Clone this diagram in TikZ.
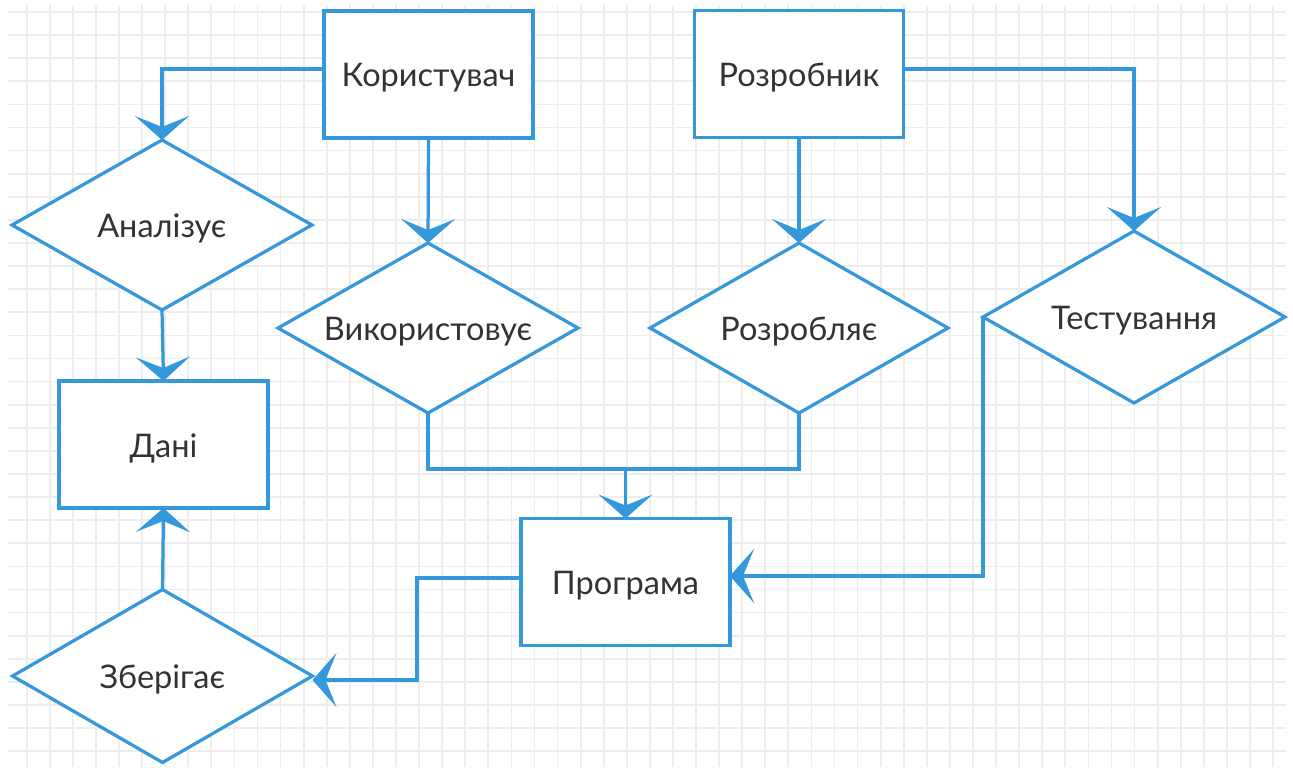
\documentclass[tikz,border=0pt]{standalone}
\usepackage{fontspec}
\setmainfont{Lato}
\usetikzlibrary{shapes.geometric,arrows.meta,calc}
\definecolor{flowblue}{HTML}{3498DB}
\definecolor{labelgray}{HTML}{333333}
\definecolor{gridgray}{HTML}{EDEDED}
% label of zero size, its baseline set a little below the shape centre
\newcommand\shapelabel[1]{\raisebox{-0.25cm}[0pt][0pt]{\makebox[0pt]{#1}}}
\begin{document}
\begin{tikzpicture}[x=0.02cm,y=-0.02cm,
  every node/.style={font=\fontsize{18.5}{22}\selectfont, text=labelgray, outer sep=0pt, inner sep=0pt},
  entity/.style={draw=flowblue, line width=0.065cm, fill=white, rectangle, minimum width=4.18cm, minimum height=2.54cm},
  relation/.style={draw=flowblue, line width=0.065cm, fill=white, diamond, minimum width=6cm, minimum height=3.4cm},
  link/.style={draw=flowblue, line width=0.065cm, line join=miter},
  arrowlink/.style={link, -{Stealth[length=0.48cm, width=1.08cm, inset=0.22cm]}}
]
  % canvas and background grid
  \fill[white] (0,0) rectangle (1293,767);
  \useasboundingbox (0,0) rectangle (1293,767);
  \foreach \i in {0,...,54}
    \draw[gridgray, line width=0.035cm] ({26.7+23.08*\i},5) -- ({26.7+23.08*\i},767);
  \foreach \j in {0,...,32}
    \draw[gridgray, line width=0.035cm] (8,{12+23.1*\j}) -- (1286,{12+23.1*\j});

  % entities
  \node[entity] (kor)  at (428.5,74.5)  {\shapelabel{Користувач}};
  \node[entity] (roz)  at (799,74)      {\shapelabel{Розробник}};
  \node[entity] (dani) at (163.5,444.5) {\shapelabel{Дані}};
  \node[entity] (prog) at (625.5,582)   {\shapelabel{Програма}};

  % relations
  \node[relation] (anal) at (162,225)   {\shapelabel{Аналізує}};
  \node[relation] (vyk)  at (428,328)   {\shapelabel{Використовує}};
  \node[relation, minimum width=5.96cm] (rozl) at (799,328) {\shapelabel{Розробляє}};
  \node[relation, minimum width=6.04cm, minimum height=3.44cm] (test) at (1134,317) {\shapelabel{Тестування}};
  \node[relation, minimum height=3.46cm] (zber) at (162.5,676) {\shapelabel{Зберігає}};

  % routing points
  \coordinate (toplevel) at (0,69);
  \coordinate (merge) at (625.5,469);
  \coordinate (testlevel) at (0,576);
  \coordinate (proglevel) at (0,578);
  \coordinate (bend) at (417,680);

  % connectors
  \draw[arrowlink] (kor.west |- toplevel) -| (anal.north);
  \draw[arrowlink] (kor.south) -- (vyk.north);
  \draw[arrowlink] (roz.south) -- (rozl.north);
  \draw[arrowlink] (roz.east |- toplevel) -| (test.north);
  \draw[arrowlink] (anal.south) -- (dani.north);
  \draw[link] (vyk.south) |- (merge) -| (rozl.south);
  \draw[arrowlink] (merge) -- (prog.north);
  \draw[arrowlink] (test.west) |- (prog.east |- testlevel);
  \draw[arrowlink] (prog.west |- proglevel) -| (bend) -- (zber.east |- bend);
  \draw[arrowlink] (zber.north) -- (dani.south);
\end{tikzpicture}
\end{document}
